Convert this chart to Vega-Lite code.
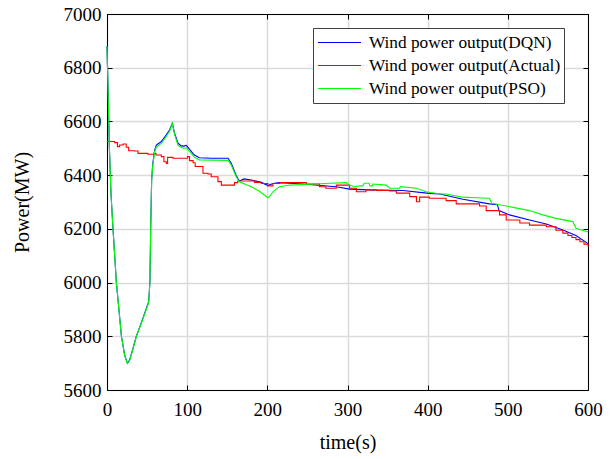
{
  "$schema": "https://vega.github.io/schema/vega-lite/v6.json",
  "autosize": {"type": "none"},
  "padding": {"left": 107, "top": 14, "right": 25, "bottom": 69},
  "width": 481,
  "height": 376,
  "background": "white",
  "data": {"values": [
    {"s":"DQN","t":0,"p":6880},{"s":"DQN","t":1,"p":6760},{"s":"DQN","t":3,"p":6500},{"s":"DQN","t":5,"p":6330},{"s":"DQN","t":7.5,"p":6200},{"s":"DQN","t":11.7,"p":6000},{"s":"DQN","t":18,"p":5800},{"s":"DQN","t":22,"p":5730},{"s":"DQN","t":25.4,"p":5700},{"s":"DQN","t":28,"p":5710},{"s":"DQN","t":32,"p":5750},{"s":"DQN","t":36.6,"p":5800},{"s":"DQN","t":44,"p":5860},{"s":"DQN","t":52,"p":5929},{"s":"DQN","t":53.5,"p":6000},{"s":"DQN","t":54.5,"p":6200},{"s":"DQN","t":55.7,"p":6382},{"s":"DQN","t":57,"p":6440},{"s":"DQN","t":59.5,"p":6494},{"s":"DQN","t":61.6,"p":6512},{"s":"DQN","t":67.8,"p":6525},{"s":"DQN","t":74,"p":6550},{"s":"DQN","t":78,"p":6568},{"s":"DQN","t":81.5,"p":6593},{"s":"DQN","t":84.3,"p":6556},{"s":"DQN","t":88.5,"p":6519},{"s":"DQN","t":92.7,"p":6509},{"s":"DQN","t":96,"p":6508},{"s":"DQN","t":99,"p":6511},{"s":"DQN","t":103,"p":6496},{"s":"DQN","t":109,"p":6475},{"s":"DQN","t":115,"p":6465},{"s":"DQN","t":130,"p":6463},{"s":"DQN","t":151,"p":6463},{"s":"DQN","t":155,"p":6444},{"s":"DQN","t":161,"p":6400},{"s":"DQN","t":165,"p":6378},{"s":"DQN","t":171,"p":6386},{"s":"DQN","t":180,"p":6382},{"s":"DQN","t":192.5,"p":6373},{"s":"DQN","t":200.7,"p":6361},{"s":"DQN","t":207,"p":6369},{"s":"DQN","t":215,"p":6372},{"s":"DQN","t":244,"p":6367},{"s":"DQN","t":286,"p":6357},{"s":"DQN","t":302.6,"p":6348},{"s":"DQN","t":327.6,"p":6345},{"s":"DQN","t":369,"p":6343},{"s":"DQN","t":402,"p":6332},{"s":"DQN","t":415,"p":6330},{"s":"DQN","t":444,"p":6310},{"s":"DQN","t":477,"p":6293},{"s":"DQN","t":487,"p":6290},{"s":"DQN","t":489,"p":6268},{"s":"DQN","t":502,"p":6252},{"s":"DQN","t":527,"p":6233},{"s":"DQN","t":548,"p":6218},{"s":"DQN","t":568.6,"p":6196},{"s":"DQN","t":585,"p":6175},{"s":"DQN","t":600,"p":6145},
    {"s":"Actual","t":0,"p":6525},{"s":"Actual","t":9.6,"p":6521},{"s":"Actual","t":13,"p":6506},{"s":"Actual","t":15.7,"p":6512},{"s":"Actual","t":20,"p":6516},{"s":"Actual","t":24,"p":6504},{"s":"Actual","t":27,"p":6491},{"s":"Actual","t":34.5,"p":6490},{"s":"Actual","t":38.7,"p":6481},{"s":"Actual","t":51,"p":6478},{"s":"Actual","t":58.6,"p":6481},{"s":"Actual","t":61,"p":6475},{"s":"Actual","t":67.8,"p":6469},{"s":"Actual","t":71,"p":6450},{"s":"Actual","t":74,"p":6444},{"s":"Actual","t":75.6,"p":6466},{"s":"Actual","t":82.3,"p":6463},{"s":"Actual","t":100.5,"p":6469},{"s":"Actual","t":103,"p":6454},{"s":"Actual","t":107.4,"p":6446},{"s":"Actual","t":110,"p":6432},{"s":"Actual","t":119.7,"p":6407},{"s":"Actual","t":126,"p":6404},{"s":"Actual","t":130,"p":6394},{"s":"Actual","t":138.4,"p":6376},{"s":"Actual","t":142.6,"p":6363},{"s":"Actual","t":159,"p":6372},{"s":"Actual","t":163,"p":6378},{"s":"Actual","t":184,"p":6373},{"s":"Actual","t":192.5,"p":6369},{"s":"Actual","t":200.7,"p":6360},{"s":"Actual","t":207,"p":6369},{"s":"Actual","t":215,"p":6372},{"s":"Actual","t":248.6,"p":6367},{"s":"Actual","t":265,"p":6357},{"s":"Actual","t":273,"p":6351},{"s":"Actual","t":286,"p":6363},{"s":"Actual","t":302.6,"p":6351},{"s":"Actual","t":311,"p":6338},{"s":"Actual","t":323,"p":6345},{"s":"Actual","t":336,"p":6343},{"s":"Actual","t":352.6,"p":6341},{"s":"Actual","t":361,"p":6333},{"s":"Actual","t":377.6,"p":6320},{"s":"Actual","t":386,"p":6301},{"s":"Actual","t":390,"p":6318},{"s":"Actual","t":402,"p":6314},{"s":"Actual","t":423,"p":6305},{"s":"Actual","t":435.6,"p":6293},{"s":"Actual","t":464.7,"p":6285},{"s":"Actual","t":473,"p":6268},{"s":"Actual","t":489.6,"p":6252},{"s":"Actual","t":498,"p":6233},{"s":"Actual","t":515,"p":6222},{"s":"Actual","t":527,"p":6214},{"s":"Actual","t":548,"p":6208},{"s":"Actual","t":560,"p":6195},{"s":"Actual","t":568.6,"p":6184},{"s":"Actual","t":575,"p":6175},{"s":"Actual","t":580,"p":6168},{"s":"Actual","t":585,"p":6160},{"s":"Actual","t":590,"p":6152},{"s":"Actual","t":595,"p":6143},{"s":"Actual","t":600,"p":6134},
    {"s":"PSO","t":0,"p":6880},{"s":"PSO","t":1,"p":6760},{"s":"PSO","t":3,"p":6500},{"s":"PSO","t":5,"p":6330},{"s":"PSO","t":7.5,"p":6200},{"s":"PSO","t":11.7,"p":6000},{"s":"PSO","t":18,"p":5800},{"s":"PSO","t":22,"p":5730},{"s":"PSO","t":25.4,"p":5698},{"s":"PSO","t":28,"p":5708},{"s":"PSO","t":32,"p":5748},{"s":"PSO","t":36.6,"p":5800},{"s":"PSO","t":44,"p":5858},{"s":"PSO","t":52,"p":5925},{"s":"PSO","t":53.5,"p":6000},{"s":"PSO","t":54.5,"p":6200},{"s":"PSO","t":55.7,"p":6382},{"s":"PSO","t":57,"p":6435},{"s":"PSO","t":59.5,"p":6488},{"s":"PSO","t":61.6,"p":6505},{"s":"PSO","t":67.8,"p":6518},{"s":"PSO","t":74,"p":6545},{"s":"PSO","t":78,"p":6563},{"s":"PSO","t":81.5,"p":6592},{"s":"PSO","t":84.3,"p":6552},{"s":"PSO","t":88.5,"p":6512},{"s":"PSO","t":92.7,"p":6503},{"s":"PSO","t":96,"p":6500},{"s":"PSO","t":99,"p":6502},{"s":"PSO","t":103,"p":6488},{"s":"PSO","t":109,"p":6467},{"s":"PSO","t":115,"p":6457},{"s":"PSO","t":151,"p":6455},{"s":"PSO","t":155,"p":6438},{"s":"PSO","t":161,"p":6395},{"s":"PSO","t":165,"p":6375},{"s":"PSO","t":180,"p":6357},{"s":"PSO","t":190,"p":6340},{"s":"PSO","t":200.7,"p":6316},{"s":"PSO","t":203,"p":6322},{"s":"PSO","t":207,"p":6338},{"s":"PSO","t":215,"p":6357},{"s":"PSO","t":228,"p":6363},{"s":"PSO","t":253,"p":6366},{"s":"PSO","t":278,"p":6370},{"s":"PSO","t":298.5,"p":6372},{"s":"PSO","t":302,"p":6363},{"s":"PSO","t":309,"p":6357},{"s":"PSO","t":315,"p":6360},{"s":"PSO","t":319,"p":6360},{"s":"PSO","t":321,"p":6370},{"s":"PSO","t":327,"p":6370},{"s":"PSO","t":328,"p":6360},{"s":"PSO","t":331,"p":6360},{"s":"PSO","t":331.7,"p":6367},{"s":"PSO","t":348,"p":6363},{"s":"PSO","t":353,"p":6351},{"s":"PSO","t":365,"p":6351},{"s":"PSO","t":366,"p":6357},{"s":"PSO","t":386,"p":6351},{"s":"PSO","t":398,"p":6338},{"s":"PSO","t":415,"p":6330},{"s":"PSO","t":423,"p":6330},{"s":"PSO","t":444,"p":6318},{"s":"PSO","t":460,"p":6316},{"s":"PSO","t":477,"p":6314},{"s":"PSO","t":480,"p":6295},{"s":"PSO","t":498,"p":6285},{"s":"PSO","t":527,"p":6268},{"s":"PSO","t":543.6,"p":6252},{"s":"PSO","t":560,"p":6239},{"s":"PSO","t":581,"p":6227},{"s":"PSO","t":585,"p":6202},{"s":"PSO","t":600,"p":6188}
  ]},
  "layer": [
    {
      "transform": [{"filter": "datum.s == 'DQN'"}],
      "mark": {"type": "line", "strokeWidth": 1.1, "interpolate": "linear"},
      "encoding": {
        "x": {"field": "t", "type": "quantitative", "scale": {"domain": [0, 600], "nice": false},
              "axis": {"orient": "bottom", "title": "time(s)", "format": "d", "labelFlush": false, "labelFont": "Liberation Serif", "values": [0,100,200,300,400,500,600], "grid": true, "tickSize": -5, "labelPadding": 15, "titlePadding": 13}},
        "y": {"field": "p", "type": "quantitative", "scale": {"domain": [5600, 7000], "nice": false, "zero": false},
              "axis": {"orient": "left", "title": "Power(MW)", "format": "d", "labelFlush": false, "labelFont": "Liberation Serif", "values": [5600,5800,6000,6200,6400,6600,6800,7000], "grid": true, "tickSize": -5, "labelPadding": 11, "titlePadding": 31}},
        "color": {"field": "s", "type": "nominal", "scale": {"domain": ["DQN", "Actual", "PSO"], "range": ["#0000ff", "#ff0000", "#00ff00"]},
                  "legend": {"title": null, "orient": "none", "legendX": 206, "legendY": 14, "labelExpr": "'Wind power output(' + datum.label + ')'"}}
      }
    },
    {
      "transform": [{"filter": "datum.s == 'Actual'"}],
      "mark": {"type": "line", "strokeWidth": 1.1, "interpolate": "step-after"},
      "encoding": {
        "x": {"field": "t", "type": "quantitative", "axis": null},
        "y": {"field": "p", "type": "quantitative", "axis": null},
        "color": {"field": "s", "type": "nominal"}
      }
    },
    {
      "transform": [{"filter": "datum.s == 'PSO'"}],
      "mark": {"type": "line", "strokeWidth": 1.1, "interpolate": "linear"},
      "encoding": {
        "x": {"field": "t", "type": "quantitative", "axis": {"orient": "top", "title": null, "labels": false, "grid": false, "values": [0,100,200,300,400,500,600], "tickSize": -5}},
        "y": {"field": "p", "type": "quantitative", "axis": {"orient": "right", "title": null, "labels": false, "grid": false, "values": [5600,5800,6000,6200,6400,6600,6800,7000], "tickSize": -5}},
        "color": {"field": "s", "type": "nominal"}
      }
    }
  ],
  "resolve": {"axis": {"x": "independent", "y": "independent"}},
  "config": {
    "font": "Liberation Serif",
    "view": {"stroke": null},
    "axis": {"domainColor": "#000000", "domainWidth": 1, "tickColor": "#000000", "labelColor": "#000000", "titleColor": "#000000",
             "labelFont": "Liberation Serif", "titleFont": "Liberation Serif", "labelFontSize": 19, "titleFontSize": 20, "titleFontWeight": "normal",
             "gridColor": "#dadada", "gridWidth": 1.5},
    "legend": {"symbolType": "stroke", "symbolSize": 1849, "symbolStrokeWidth": 1, "clipHeight": 23, "rowPadding": 0,
               "symbolOffset": 1.5, "labelOffset": 7.4, "labelFont": "Liberation Serif", "labelFontSize": 17.3, "labelColor": "#000000",
               "padding": 3, "strokeColor": "#404040", "fillColor": "#ffffff", "labelLimit": 400}
  }
}
